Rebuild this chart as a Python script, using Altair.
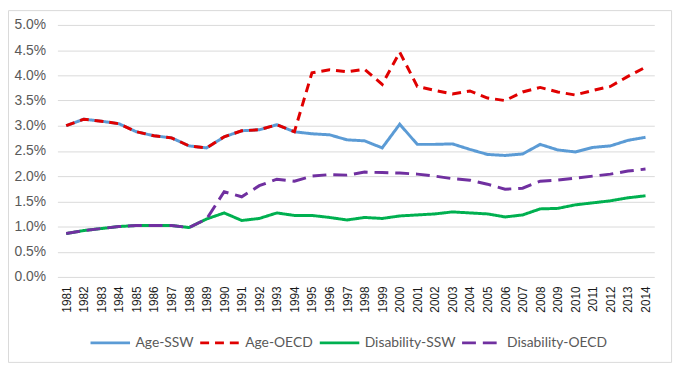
import altair as alt
import pandas as pd

years = list(range(1981, 2015))

age_ssw = [3.00, 3.13, 3.09, 3.04, 2.88, 2.80, 2.76, 2.60, 2.56, 2.78,
           2.90, 2.92, 3.02, 2.88, 2.84, 2.82, 2.72, 2.70, 2.56, 3.03,
           2.63, 2.63, 2.64, 2.53, 2.43, 2.41, 2.44, 2.63, 2.52, 2.48,
           2.57, 2.60, 2.71, 2.77]
age_oecd = [3.00, 3.13, 3.09, 3.04, 2.88, 2.80, 2.76, 2.60, 2.56, 2.78,
            2.90, 2.92, 3.02, 2.88, 4.05, 4.11, 4.07, 4.12, 3.82, 4.46,
            3.78, 3.70, 3.63, 3.69, 3.55, 3.50, 3.67, 3.76, 3.67, 3.61,
            3.70, 3.78, 3.98, 4.16]
dis_ssw = [0.86, 0.92, 0.96, 1.00, 1.02, 1.02, 1.02, 0.98, 1.15, 1.27,
           1.12, 1.16, 1.27, 1.22, 1.22, 1.18, 1.13, 1.18, 1.16, 1.21,
           1.23, 1.25, 1.29, 1.27, 1.25, 1.19, 1.23, 1.35, 1.36, 1.43,
           1.47, 1.51, 1.57, 1.61]
dis_oecd = [0.86, 0.92, 0.96, 1.00, 1.02, 1.02, 1.02, 0.98, 1.15, 1.69,
            1.59, 1.81, 1.94, 1.90, 2.00, 2.03, 2.02, 2.08, 2.07, 2.06,
            2.04, 2.00, 1.95, 1.92, 1.84, 1.74, 1.76, 1.90, 1.92, 1.96,
            2.00, 2.04, 2.10, 2.14]

series_names = ["Age-SSW", "Age-OECD", "Disability-SSW", "Disability-OECD"]
series_values = [age_ssw, age_oecd, dis_ssw, dis_oecd]
colors = ["#5B9BD5", "#E00000", "#00B050", "#7030A0"]
dashes = [[1, 0], [9, 6], [1, 0], [14, 7]]

y_ticks = [i * 0.005 for i in range(11)]

rows = []
for name, vals in zip(series_names, series_values):
    for yr, v in zip(years, vals):
        rows.append({"Year": str(yr), "Series": name, "Value": v / 100})
df = pd.DataFrame(rows)

x_enc = alt.X("Year:O", scale=alt.Scale(type="point", padding=0.5),
              axis=alt.Axis(title=None, labelAngle=270, labelFontSize=12,
                            labelColor="#1a1a1a", labelFont="Liberation Sans",
                            ticks=False, domain=False, labelPadding=9, grid=False))
y_enc = alt.Y("Value:Q", scale=alt.Scale(domain=[0, 0.05], nice=False),
              axis=alt.Axis(title=None, values=y_ticks, format=".1%",
                            labelFontSize=14, labelColor="#595959",
                            labelFont="Liberation Sans", ticks=False,
                            domain=False, labelPadding=12, gridColor="#d9d9d9",
                            gridWidth=1))
color_scale = alt.Scale(domain=series_names, range=colors)
dash_scale = alt.Scale(domain=series_names, range=dashes)

legend = alt.Legend(title=None, orient="none", direction="horizontal",
                    legendX=32, legendY=300, symbolType="stroke",
                    symbolSize=1600, symbolStrokeWidth=3, labelFontSize=14,
                    labelFont="Lato", labelColor="#595959", columnPadding=0,
                    labelOffset=4)

base = alt.Chart(df)
layers = []
for i, name in enumerate(series_names):
    layers.append(
        base.transform_filter(alt.datum.Series == name)
        .mark_line(strokeWidth=3)
        .encode(
            x=x_enc,
            y=y_enc,
            color=alt.Color("Series:N", scale=color_scale,
                            legend=legend if i == 0 else None),
            strokeDash=alt.StrokeDash("Series:N", scale=dash_scale,
                                      legend=legend if i == 0 else None),
        )
    )

border = alt.Chart(alt.Data(values=[{"a": 1}])).mark_rect(
    fill=None, stroke="#d9d9d9", strokeWidth=1
).encode(
    x=alt.value(-49.5), x2=alt.value(621.5),
    y=alt.value(-14.5), y2=alt.value(341.5)
)

chart = alt.layer(border, *layers).properties(
    width=604, height=255,
    autosize=alt.AutoSizeParams(type="none"),
    padding={"left": 50, "top": 15, "right": 24, "bottom": 88},
).configure_view(stroke=None)

chart.save("out.html", embed_options={"renderer": "svg", "actions": False})
